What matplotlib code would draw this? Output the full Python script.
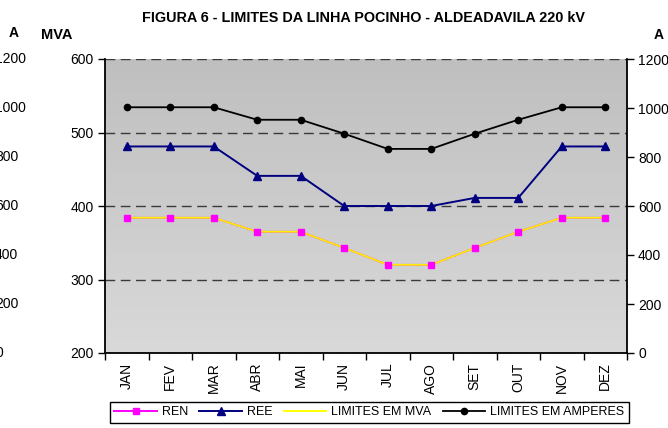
import numpy as np
import matplotlib
matplotlib.use("Agg")
import matplotlib.pyplot as plt
import matplotlib.transforms as mtransforms
from matplotlib.colors import LinearSegmentedColormap
from matplotlib.lines import Line2D

plt.rcParams['font.family'] = ['Liberation Sans', 'DejaVu Sans']

# dados
meses = ["JAN", "FEV", "MAR", "ABR", "MAI", "JUN", "JUL", "AGO", "SET", "OUT", "NOV", "DEZ"]
ren = [384, 384, 384, 365, 365, 343, 320, 320, 343, 365, 384, 384]          # MVA
ree = [481, 481, 481, 441, 441, 400, 400, 400, 411, 411, 481, 481]          # MVA
limites_mva = [384, 384, 384, 365, 365, 343, 320, 320, 343, 365, 384, 384]  # MVA
limites_a = [1003, 1003, 1003, 952, 952, 895, 833, 833, 895, 952, 1003, 1003]  # A
ticks_mva = [200, 300, 400, 500, 600]
ticks_a = [0, 200, 400, 600, 800, 1000, 1200]

titulo = "FIGURA 6 - LIMITES DA LINHA POCINHO - ALDEADAVILA 220 kV"

W, H = 668, 428
fig = plt.figure(figsize=(W / 100, H / 100), dpi=100)
ax = fig.add_axes([105 / W, 75 / H, 522 / W, 294 / H])
x = np.arange(len(meses))

# fundo em degrade cinzento
cmap = LinearSegmentedColormap.from_list("fundo", ["#bfbfbf", "#d9d9d9"])
ax.imshow(np.linspace(0, 1, 256).reshape(-1, 1), cmap=cmap, aspect="auto",
          extent=[-0.5, len(meses) - 0.5, 200, 600], zorder=0)

ax.set_xlim(-0.5, len(meses) - 0.5)
ax.set_ylim(200, 600)
ax.set_yticks(ticks_mva)
ax.set_axisbelow(True)
ax.grid(axis="y", linestyle=(0, (7, 4)), color="#3a3a3a", lw=1.0)
ax.set_xticks(np.arange(-0.5, len(meses), 1))
ax.set_xticklabels([])
ax.set_xticks(x, minor=True)
ax.set_xticklabels(meses, minor=True, rotation=90, fontsize=10)
ax.tick_params(axis="x", which="major", direction="out", length=5, width=1, color="black")
ax.tick_params(axis="x", which="minor", length=0, pad=7)
ax.tick_params(axis="y", direction="out", length=5, width=1, labelsize=10, pad=3)
for s in ["top", "right"]:
    ax.spines[s].set_visible(False)
for s in ["left", "bottom"]:
    ax.spines[s].set_linewidth(1.3)

# series em MVA
ax.plot(x, ren, color="#ff00ff", lw=1.2, zorder=3)
ax.plot(x, limites_mva, color="#ffee00", lw=1.3, zorder=4)
ax.plot(x, ren, ls="none", marker="s", ms=4.8, color="#ff00ff", zorder=5)
ax.plot(x, ree, color="#000080", lw=1.4, marker="^", ms=6, zorder=5)

# serie em amperes
ax2 = ax.twinx()
ax2.set_ylim(0, 1200)
ax2.set_yticks(ticks_a)
ax2.tick_params(axis="y", direction="out", length=5, width=1, labelsize=10, pad=3)
for s in ["top", "left", "bottom"]:
    ax2.spines[s].set_visible(False)
ax2.spines["right"].set_linewidth(1.3)
ax2.plot(x, limites_a, color="black", lw=1.3, marker="o", ms=4.5, zorder=5)

# restos de um eixo cortado a esquerda
trans = mtransforms.blended_transform_factory(fig.transFigure, ax2.transData)
for v in ticks_a:
    fig.text(-5 / W, v, str(v), transform=trans, ha="left", va="center", fontsize=10)

fig.text(14 / W, 1 - 33 / H, "A", ha="center", va="center", fontsize=10, fontweight="bold")
fig.text(57 / W, 1 - 35 / H, "MVA", ha="center", va="center", fontsize=10.5, fontweight="bold")
fig.text(659 / W, 1 - 35 / H, "A", ha="center", va="center", fontsize=10, fontweight="bold")
fig.text(364 / W, 1 - 18 / H, titulo, ha="center", va="center", fontsize=10.4, fontweight="bold")

handles = [
    Line2D([], [], color="#ff00ff", marker="s", ms=4.8, lw=1.4),
    Line2D([], [], color="#000080", marker="^", ms=6, lw=1.4),
    Line2D([], [], color="#ffff00", lw=1.4),
    Line2D([], [], color="black", marker="o", ms=4.5, lw=1.3),
]
labels = ["REN", "REE", "LIMITES EM MVA", "LIMITES EM AMPERES"]
leg = fig.legend(handles, labels, loc="upper left", bbox_to_anchor=(110 / W, 1 - 402 / H),
                 ncol=4, fontsize=9, frameon=True, fancybox=False, edgecolor="black",
                 framealpha=1, handlelength=3.4, handletextpad=0.4, columnspacing=0.9,
                 borderpad=0.35, borderaxespad=0)
leg.get_frame().set_linewidth(1.0)

fig.savefig("out.png", dpi=100)
